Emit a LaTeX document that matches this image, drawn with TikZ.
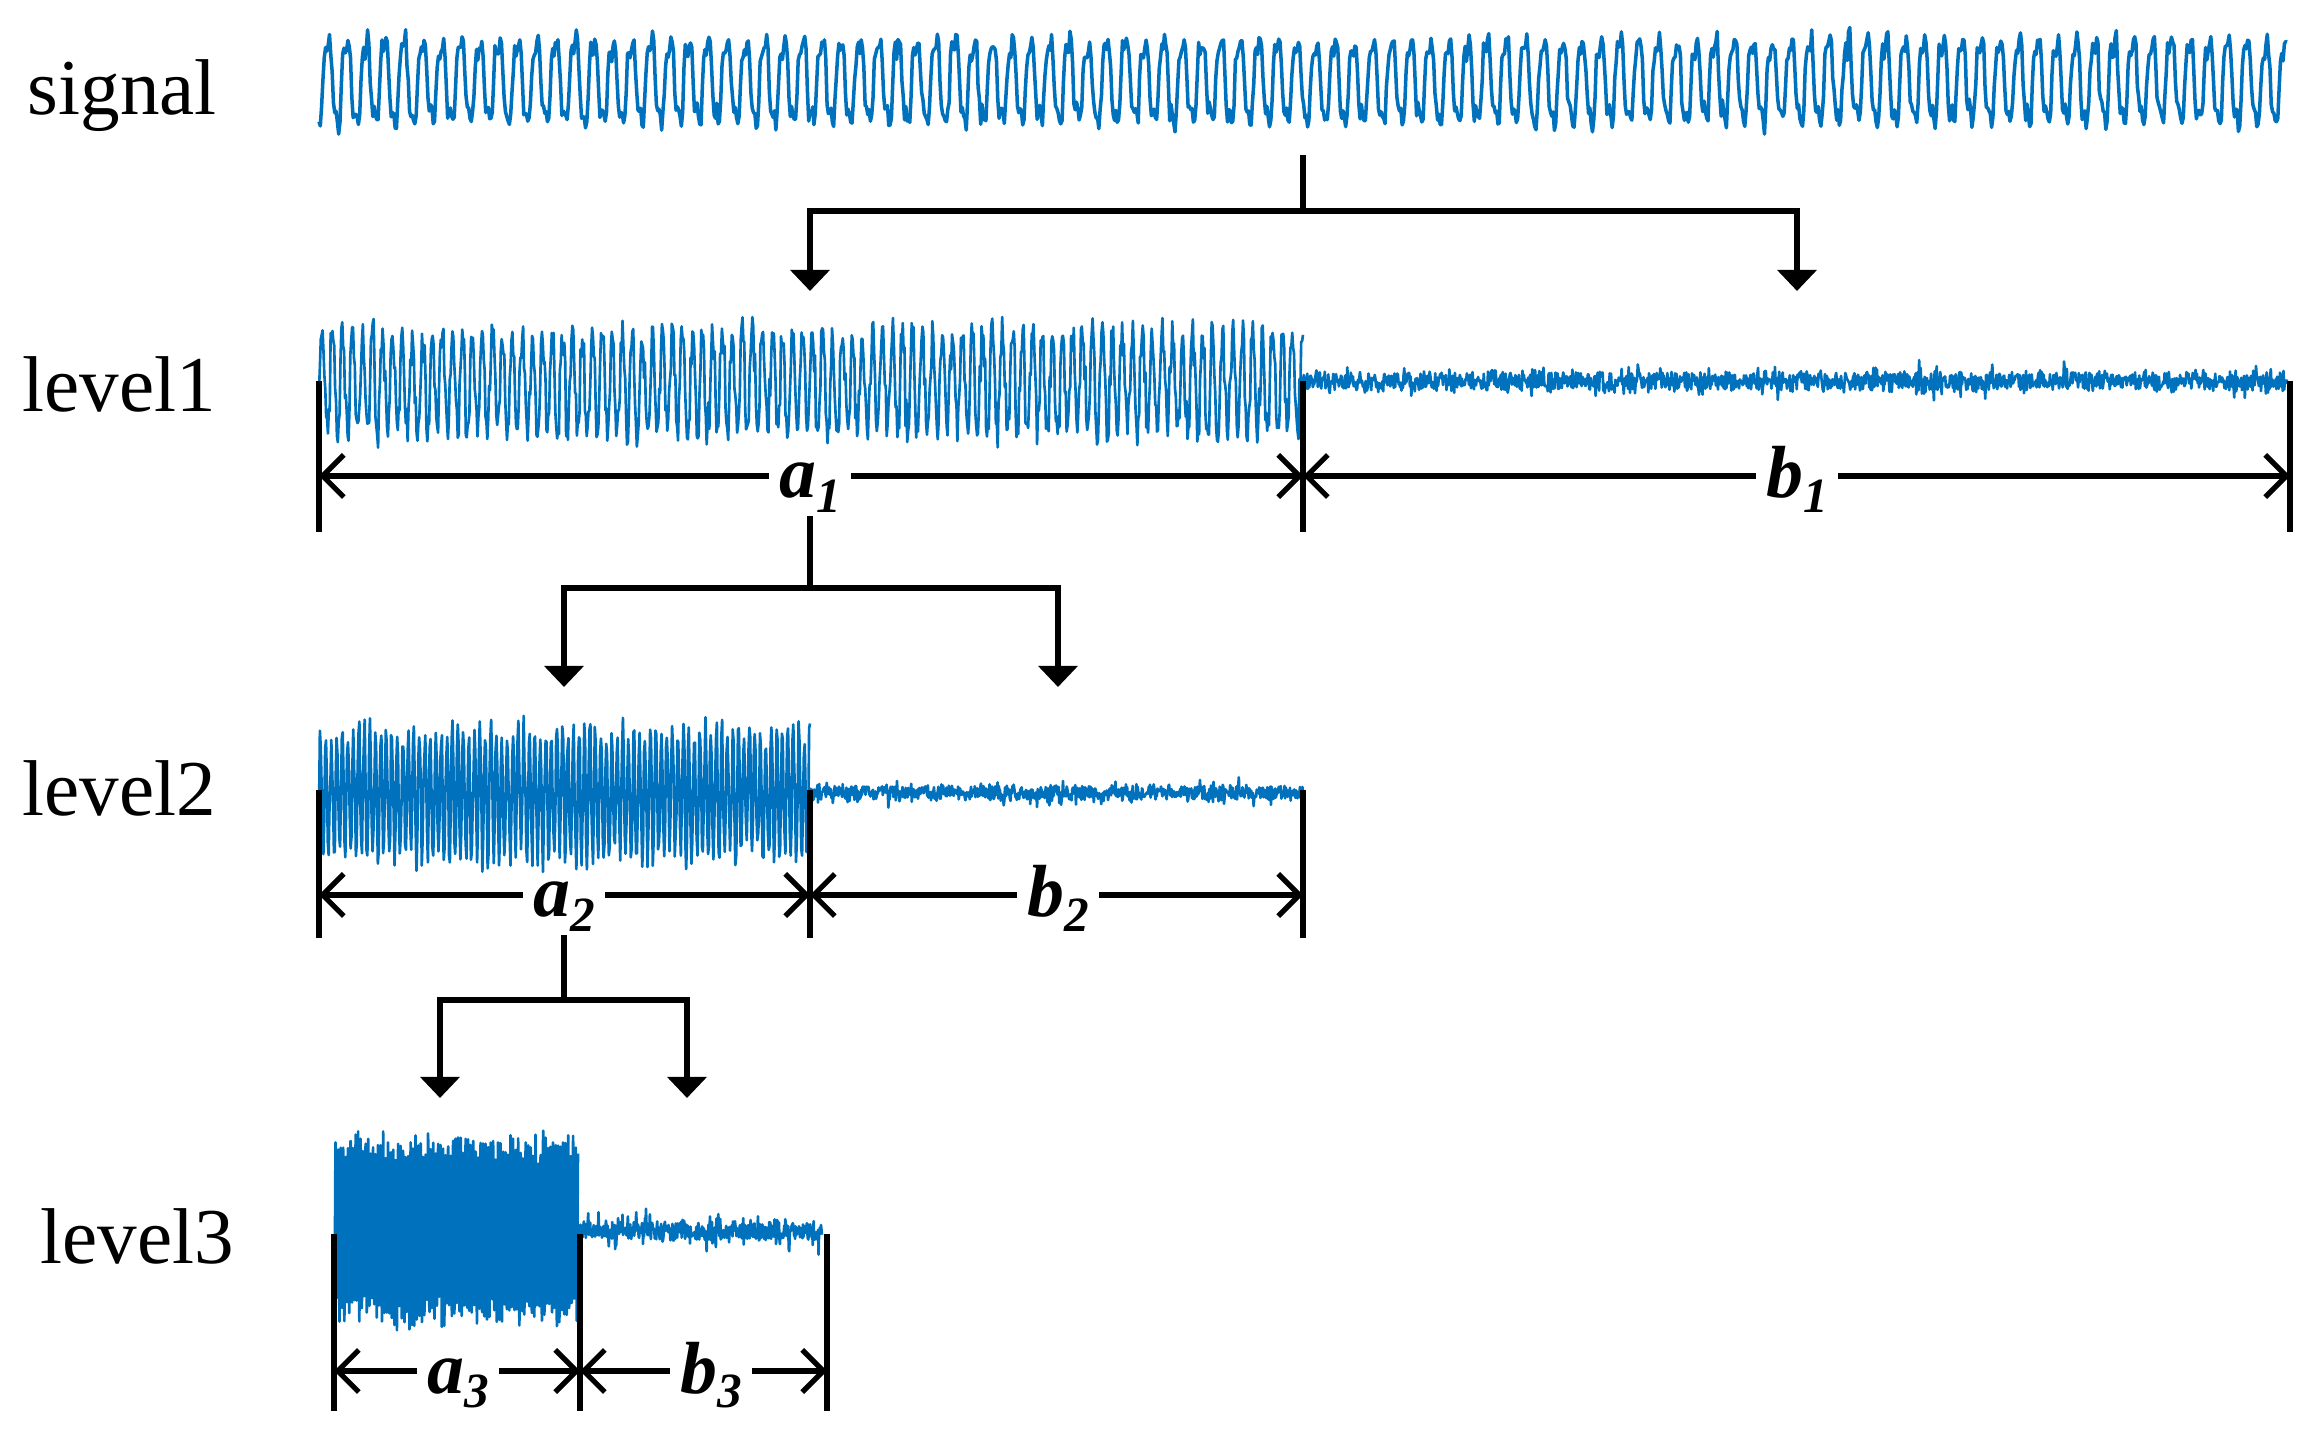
\documentclass[tikz,border=0pt]{standalone}
\usepackage{fontspec}
\setmainfont{Liberation Serif}
\usetikzlibrary{arrows.meta}
\definecolor{wblue}{RGB}{0,114,189}
\newcommand\dimlab[2]{#1\raisebox{-4pt}{\fontsize{14}{16}\selectfont #2}}
\begin{document}
\begin{tikzpicture}[x=0.01cm,y=-0.01cm,
  wave/.style={wblue, line width=0.75pt, line join=round},
  conn/.style={line width=1.7pt},
  carrow/.style={conn, -{Triangle[width=11pt,length=6pt]}},
  dimline/.style={line width=1.5pt, {Straight Barb[length=6pt,width=12pt]}-{Straight Barb[length=6pt,width=12pt]}},
  tickline/.style={line width=1.5pt},
  lvl/.style={anchor=base west, inner sep=0pt, font=\fontsize{22.5}{27}\selectfont},
  dl/.style={anchor=base, fill=white, inner xsep=3pt, inner ysep=1pt, font=\fontsize{21}{25}\selectfont\bfseries\itshape}
]
\useasboundingbox (0,0) rectangle (2317,1437);
\pgfmathsetseed{4711}

% ---- labels on the left
\node[lvl] (tsig) at (27,115) {signal};
\node[lvl] (tl1) at (22,412) {level1};
\node[lvl] (tl2) at (22,816) {level2};
\node[lvl] (tl3) at (40,1264) {level3};

% ---- waveforms
\draw[wave, line width=1pt] plot[domain=319:2287, samples=1500]
  (\x, {81 - ((42+6*rand)*sin(360*mod(\x,19)/19 + 10*rand) + 11*sin(360*mod(\x,6.3333)/6.3333 + 40) + 5*rand)});

\draw[wave] plot[domain=319:1303, samples=1100]
  (\x, {382 - (52+12*rand)*sin(36*mod(\x,10) + 30*rand) + 4*rand});
\draw[wave] plot[domain=1303:2287, samples=1400]
  (\x, {381 + 9*rand + 17*rand*rand*rand});

\draw[wave] plot[domain=319:810, samples=560]
  (\x, {794 - (66+12*rand)*sin(65.45*mod(\x,5.5) + 20*rand) + 3*rand});
\draw[wave] plot[domain=810:1303, samples=800]
  (\x, {793 + 7*rand + 14*rand*rand*rand});

\draw[wave] plot[domain=334:578, samples=800]
  (\x, {1230 - (84+16*rand)*sin(144*mod(\x,2.5)) + 3*rand});
\draw[wave] plot[domain=578:822, samples=500]
  (\x, {1231 + 8*rand + 22*rand*rand*rand});

% ---- level 1 dimensions
\draw[tickline] (319,381) -- (319,532);
\draw[tickline] (1303,381) -- (1303,532);
\draw[tickline] (2290,381) -- (2290,532);
\draw[dimline] (319,476) -- (1303,476);
\draw[dimline] (1303,476) -- (2290,476);
\node[dl] (la1) at (810,498) {\dimlab{a}{1}};
\node[dl] (lb1) at (1797,498) {\dimlab{b}{1}};

% ---- level 2 dimensions
\draw[tickline] (319,790) -- (319,938);
\draw[tickline] (810,790) -- (810,938);
\draw[tickline] (1303,790) -- (1303,938);
\draw[dimline] (319,895) -- (810,895);
\draw[dimline] (810,895) -- (1303,895);
\node[dl] (la2) at (564,917) {\dimlab{a}{2}};
\node[dl] (lb2) at (1058,917) {\dimlab{b}{2}};

% ---- level 3 dimensions
\draw[tickline] (334,1234) -- (334,1411);
\draw[tickline] (580,1234) -- (580,1411);
\draw[tickline] (827,1234) -- (827,1411);
\draw[dimline] (334,1371) -- (580,1371);
\draw[dimline] (580,1371) -- (827,1371);
\node[dl] (la3) at (458,1393) {\dimlab{a}{3}};
\node[dl] (lb3) at (711,1393) {\dimlab{b}{3}};

% ---- connectors
\coordinate (c1t) at (1303,155);
\coordinate (c1m) at (1303,211);
\coordinate (c1l) at (810,291);
\coordinate (c1r) at (1797,291);
\draw[conn] (c1t) -- (c1m);
\draw[carrow] (c1m) -| (c1l);
\draw[carrow] (c1m) -| (c1r);

\coordinate (c2m) at (810,588);
\coordinate (c2l) at (564,687);
\coordinate (c2r) at (1058,687);
\draw[conn] (la1.south) -- (c2m);
\draw[carrow] (c2m) -| (c2l);
\draw[carrow] (c2m) -| (c2r);

\coordinate (c3m) at (564,1000);
\coordinate (c3l) at (440,1098);
\coordinate (c3r) at (687,1098);
\draw[conn] (la2.south) -- (c3m);
\draw[carrow] (c3m) -| (c3l);
\draw[carrow] (c3m) -| (c3r);
\end{tikzpicture}
\end{document}
